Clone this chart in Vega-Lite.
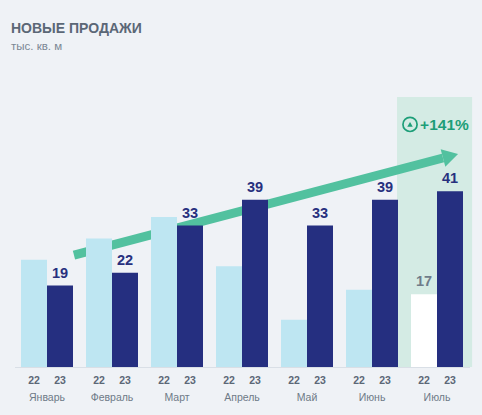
{
  "$schema": "https://vega.github.io/schema/vega-lite/v6.json",
  "width": 455,
  "height": 270,
  "autosize": {"type": "none"},
  "padding": {"left": 14.5, "top": 97, "right": 12.5, "bottom": 48},
  "background": "#eff2f6",
  "title": {
    "text": "НОВЫЕ ПРОДАЖИ",
    "subtitle": "тыс. кв. м",
    "anchor": "start",
    "frame": "group",
    "dx": -3.5,
    "offset": 45,
    "font": "Liberation Sans",
    "fontSize": 14,
    "fontWeight": "bold",
    "color": "#5b6776",
    "subtitleFont": "Liberation Sans",
    "subtitleFontSize": 11.5,
    "subtitleFontWeight": "normal",
    "subtitleColor": "#7b8794",
    "subtitlePadding": 5
  },
  "datasets": {
    "sales": [
      {"month": "Январь", "year": "22", "value": 25},
      {"month": "Январь", "year": "23", "value": 19},
      {"month": "Февраль", "year": "22", "value": 30},
      {"month": "Февраль", "year": "23", "value": 22},
      {"month": "Март", "year": "22", "value": 35},
      {"month": "Март", "year": "23", "value": 33},
      {"month": "Апрель", "year": "22", "value": 23.5},
      {"month": "Апрель", "year": "23", "value": 39},
      {"month": "Май", "year": "22", "value": 11},
      {"month": "Май", "year": "23", "value": 33},
      {"month": "Июнь", "year": "22", "value": 18},
      {"month": "Июнь", "year": "23", "value": 39},
      {"month": "Июль", "year": "22", "value": 17},
      {"month": "Июль", "year": "23", "value": 41}
    ],
    "arrow": [
      {"x": 0.915, "y": 26.1},
      {"x": 6.592, "y": 48.77}
    ],
    "head": [{"x": 6.708, "y": 49.23}],
    "highlight": [{"start": 5.885, "end": 7.04, "low": 0, "high": 63}],
    "badge": [{"x": 6.085, "y": 56.6, "tx": 6.24, "ty": 56.5, "label": "+141%"}]
  },
  "layer": [
    {
      "layer": [
        {
          "data": {"name": "highlight"},
          "mark": {"type": "rect", "color": "#d4ebe4"},
          "encoding": {
            "x": {"field": "start", "type": "quantitative", "scale": {"domain": [0, 7], "nice": false}, "axis": null},
            "x2": {"field": "end"},
            "y": {"field": "low", "type": "quantitative", "scale": {"domain": [0, 63], "nice": false}, "axis": null},
            "y2": {"field": "high"}
          }
        },
        {
          "data": {"name": "arrow"},
          "mark": {"type": "line", "color": "#52c19f", "strokeWidth": 9, "strokeCap": "butt"},
          "encoding": {
            "x": {"field": "x", "type": "quantitative"},
            "y": {"field": "y", "type": "quantitative"}
          }
        },
        {
          "data": {"name": "head"},
          "mark": {"type": "point", "shape": "triangle-right", "filled": true, "size": 324, "angle": 345, "color": "#52c19f", "opacity": 1},
          "encoding": {
            "x": {"field": "x", "type": "quantitative"},
            "y": {"field": "y", "type": "quantitative"}
          }
        },
        {
          "data": {"name": "badge"},
          "mark": {"type": "point", "shape": "circle", "filled": false, "size": 200, "strokeWidth": 1.7, "color": "#1d9e78", "opacity": 1},
          "encoding": {
            "x": {"field": "x", "type": "quantitative"},
            "y": {"field": "y", "type": "quantitative"}
          }
        },
        {
          "data": {"name": "badge"},
          "mark": {"type": "point", "shape": "triangle-up", "filled": true, "size": 30, "color": "#1d9e78", "opacity": 1},
          "encoding": {
            "x": {"field": "x", "type": "quantitative"},
            "y": {"field": "y", "type": "quantitative"}
          }
        },
        {
          "data": {"name": "badge"},
          "mark": {"type": "text", "align": "left", "baseline": "middle", "font": "Liberation Sans", "fontSize": 15.5, "fontWeight": "bold", "color": "#1d9e78"},
          "encoding": {
            "x": {"field": "tx", "type": "quantitative"},
            "y": {"field": "ty", "type": "quantitative"},
            "text": {"field": "label"}
          }
        }
      ]
    },
    {
      "data": {"name": "sales"},
      "encoding": {
        "x": {
          "field": "month",
          "type": "nominal",
          "sort": ["Январь", "Февраль", "Март", "Апрель", "Май", "Июнь", "Июль"],
          "scale": {"paddingInner": 0.2, "paddingOuter": 0.1},
          "axis": {
            "title": null,
            "orient": "bottom",
            "domainColor": "#d9dfe6",
            "ticks": false,
            "tickSize": 0,
            "labelPadding": 25,
            "labelAngle": 0,
            "labelFont": "Liberation Sans",
            "labelFontSize": 10.5,
            "labelColor": "#6e7a87",
            "grid": false
          }
        },
        "xOffset": {
          "field": "year",
          "type": "nominal",
          "sort": ["22", "23"],
          "scale": {"paddingInner": 0, "paddingOuter": 0}
        }
      },
      "layer": [
        {
          "mark": {"type": "bar"},
          "encoding": {
            "y": {"field": "value", "type": "quantitative", "scale": {"domain": [0, 63], "nice": false}, "axis": null},
            "color": {
              "condition": {"test": "datum.month === 'Июль' && datum.year === '22'", "value": "#ffffff"},
              "field": "year",
              "type": "nominal",
              "scale": {"domain": ["22", "23"], "range": ["#bee6f2", "#252f80"]},
              "legend": null
            }
          }
        },
        {
          "transform": [{"filter": "datum.year === '23' || datum.month === 'Июль'"}],
          "mark": {"type": "text", "baseline": "alphabetic", "dy": -8, "font": "Liberation Sans", "fontSize": 14.5, "fontWeight": "bold"},
          "encoding": {
            "y": {"field": "value", "type": "quantitative"},
            "text": {"field": "value"},
            "color": {
              "condition": {"test": "datum.year === '22'", "value": "#6f7c8a"},
              "value": "#27307e"
            }
          }
        },
        {
          "mark": {"type": "text", "baseline": "alphabetic", "dy": 17, "font": "Liberation Sans", "fontSize": 10.5, "fontWeight": "bold", "color": "#5c6877"},
          "encoding": {
            "y": {"datum": 0, "type": "quantitative"},
            "text": {"field": "year"}
          }
        }
      ]
    }
  ],
  "resolve": {"scale": {"x": "independent"}},
  "config": {"view": {"stroke": null}, "font": "Liberation Sans"}
}
